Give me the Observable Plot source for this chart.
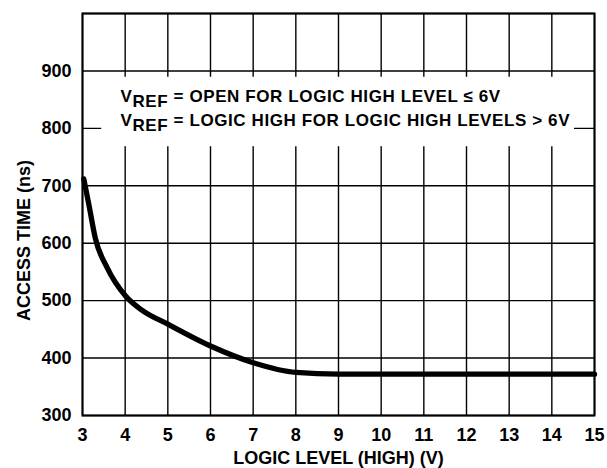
<!DOCTYPE html>
<html>
<head>
<meta charset="utf-8">
<script src="https://cdn.jsdelivr.net/npm/d3@7"></script>
<script src="https://cdn.jsdelivr.net/npm/@observablehq/plot@0.6"></script>
<style>
  html, body { margin: 0; padding: 0; background: white; }
</style>
</head>
<body>
<div id="chart"></div>
<script>
// Data
const logicLevel = [3.03, 3.15, 3.3, 3.58, 4.01, 4.4, 5.0, 6.0, 7.0, 8.0, 9.0, 10, 11, 12, 13, 14, 15];
const accessTime = [712, 667, 609, 557, 508, 483, 459, 421, 392, 375, 372, 372, 372, 372, 372, 372, 372];

const xTicks = [3, 4, 5, 6, 7, 8, 9, 10, 11, 12, 13, 14, 15];
const yTicks = [300, 400, 500, 600, 700, 800, 900];
const yGrid = [300, 400, 500, 600, 700, 800, 900, 1000];

const xLabel = "LOGIC LEVEL (HIGH) (V)";
const yLabel = "ACCESS TIME (ns)";
const noteLines = ["V{REF} = OPEN FOR LOGIC HIGH LEVEL \u2264 6V", "V{REF} = LOGIC HIGH FOR LOGIC HIGH LEVELS > 6V"];
const noteY = [855, 814];
const noteX = 3.89;
const noteBox = {x1: 3.45, x2: 14.53, y1: 768, y2: 889};

const data = logicLevel.map((x, i) => ({x, y: accessTime[i]}));
const notes = noteLines.map((t, i) => ({t, y: noteY[i]}));

const plot = Plot.plot({
  width: 607,
  height: 468,
  marginLeft: 82,
  marginRight: 13,
  marginTop: 13,
  marginBottom: 53,
  style: {
    fontFamily: "'Liberation Sans', Arial, Helvetica, sans-serif",
    fontWeight: "bold",
    fontSize: "18px",
    color: "black",
    background: "white"
  },
  x: {domain: [3, 15]},
  y: {domain: [300, 1000]},
  marks: [
    Plot.gridX(xTicks, {stroke: "black", strokeOpacity: 1, strokeWidth: 1.4}),
    Plot.gridY(yGrid, {stroke: "black", strokeOpacity: 1, strokeWidth: 1.4}),
    Plot.rect([noteBox], {x1: "x1", x2: "x2", y1: "y1", y2: "y2", fill: "white"}),
    Plot.axisX(xTicks, {tickSize: 0, tickPadding: 13, label: null, fill: "black"}),
    Plot.axisY(yTicks, {tickSize: 0, tickPadding: 11, label: null, fill: "black"}),
    Plot.text([xLabel], {frameAnchor: "bottom", lineAnchor: "middle", textAnchor: "middle", dy: 43, fill: "black", fontSize: 18}),
    Plot.text([yLabel], {frameAnchor: "left", lineAnchor: "middle", textAnchor: "middle", rotate: -90, dx: -58.5, dy: 26, fill: "black", fontSize: 18}),
    Plot.text(notes, {x: () => noteX, y: "y", text: "t", textAnchor: "start", lineAnchor: "middle", fill: "black", fontSize: 17}),
    Plot.line(data, {x: "x", y: "y", stroke: "black", strokeWidth: 5.3, curve: "monotone-x", strokeLinejoin: "round"}),
    Plot.frame({stroke: "black", strokeWidth: 2})
  ]
});

// Render subscripts written as {..}
d3.select(plot).selectAll("text").each(function () {
  const s = this.textContent;
  const m = s.match(/^(.*?)\{(.*?)\}(.*)$/);
  if (!m) return;
  const sel = d3.select(this);
  sel.text(null);
  sel.style("letter-spacing", "0.6px");
  sel.append("tspan").text(m[1]);
  sel.append("tspan").attr("dy", "0.3em").text(m[2]);
  sel.append("tspan").attr("dy", "-0.3em").text(m[3]);
});

document.getElementById("chart").appendChild(plot);
</script>
</body>
</html>
